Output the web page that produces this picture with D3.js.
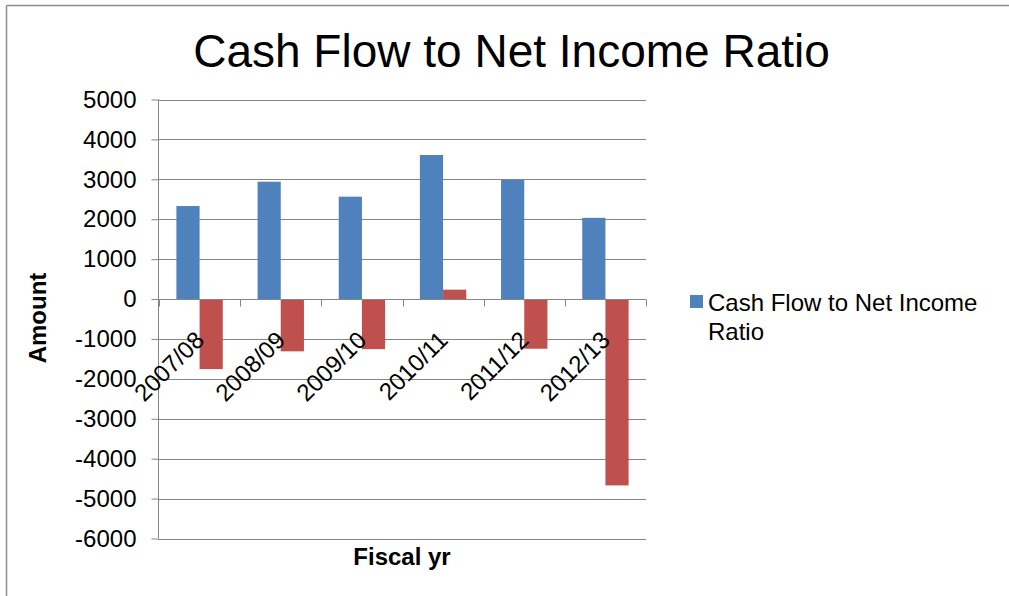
<!DOCTYPE html>
<html>
<head>
<meta charset="utf-8">
<script src="https://cdn.jsdelivr.net/npm/d3@7"></script>
<style>
  html, body { margin: 0; padding: 0; background: #fff; }
  svg { display: block; font-family: "Liberation Sans", Arial, sans-serif; }
</style>
</head>
<body>
<svg id="chart" width="1009" height="596"></svg>
<script>
// ---- data ----
const categories = ["2007/08", "2008/09", "2009/10", "2010/11", "2011/12", "2012/13"];
const seriesNames = ["Cash Flow to Net Income Ratio", "Series 2"];
const cashFlowRatio = [2330, 2940, 2565, 3610, 2990, 2035];
const series2 = [-1755, -1310, -1255, 235, -1245, -4670];
const yTicks = [5000, 4000, 3000, 2000, 1000, 0, -1000, -2000, -3000, -4000, -5000, -6000];
const titleText = "Cash Flow to Net Income Ratio";
const xTitle = "Fiscal yr";
const yTitle = "Amount";

const colors = ["#4F81BD", "#C0504D"];
const seriesValues = [cashFlowRatio, series2];

const svg = d3.select("#chart");
const L = 158, R = 646, T = 99.5, B = 538.5;

// outer chart border (only top and left visible)
svg.append("line").attr("x1", 6.5).attr("x2", 1009).attr("y1", 5.5).attr("y2", 5.5)
  .attr("stroke", "#8c8c8c").attr("stroke-width", 1.5);
svg.append("line").attr("x1", 6.5).attr("x2", 6.5).attr("y1", 5.5).attr("y2", 596)
  .attr("stroke", "#8c8c8c").attr("stroke-width", 1.5);

const y = d3.scaleLinear().domain([-6000, 5000]).range([B, T]);
const x = d3.scaleBand().domain(categories).range([L + 1, R]).paddingInner(0).paddingOuter(0);
const xs = d3.scaleBand().domain(seriesNames).range([0, x.bandwidth()]).paddingInner(0).paddingOuter(0.75);

// gridlines
svg.append("g").selectAll("line").data(yTicks).join("line")
  .attr("x1", L).attr("x2", R)
  .attr("y1", d => Math.round(y(d)) + 0.5).attr("y2", d => Math.round(y(d)) + 0.5)
  .attr("stroke", "#868686").attr("stroke-width", 1);

// bars
const rows = [];
categories.forEach((c, i) => {
  seriesNames.forEach((s, j) => rows.push({ c, s, j, v: seriesValues[j][i] }));
});
svg.append("g").selectAll("rect").data(rows).join("rect")
  .attr("x", d => x(d.c) + xs(d.s))
  .attr("width", xs.bandwidth())
  .attr("y", d => Math.min(y(d.v), y(0)))
  .attr("height", d => Math.abs(y(d.v) - y(0)))
  .attr("fill", d => colors[d.j]);

// y axis
const yAxis = d3.axisLeft(y).tickValues(yTicks).tickSize(7).tickPadding(15).tickFormat(d => String(d));
const gy = svg.append("g").attr("transform", `translate(${L + 0.5},0)`).call(yAxis);
gy.select(".domain").attr("stroke", "#868686").attr("d", `M0,${T}V${B}`);
gy.selectAll(".tick line").attr("stroke", "#868686");
gy.selectAll(".tick text").attr("font-size", 24).attr("fill", "#000")
  .attr("font-family", "'Liberation Sans', Arial, sans-serif");

// category axis at zero
const z = Math.round(y(0)) + 0.5;
const gx = svg.append("g");
gx.append("line").attr("x1", L).attr("x2", R).attr("y1", z).attr("y2", z)
  .attr("stroke", "#868686");
const bounds = categories.map(c => x(c)).concat([x(categories[categories.length - 1]) + x.bandwidth()]);
gx.selectAll("line.tk").data(bounds).join("line").attr("class", "tk")
  .attr("x1", d => Math.round(d) + 0.5).attr("x2", d => Math.round(d) + 0.5)
  .attr("y1", z).attr("y2", z + 7).attr("stroke", "#868686");
gx.selectAll("text").data(categories).join("text")
  .attr("transform", d => `translate(${x(d) + x.bandwidth() / 2 + 6},${z + 42}) rotate(-45)`)
  .attr("text-anchor", "end")
  .attr("font-size", 24).attr("fill", "#000")
  .text(d => d);

// titles
svg.append("text").attr("x", 511.5).attr("y", 66.5).attr("text-anchor", "middle")
  .attr("font-size", 46).attr("fill", "#000").text(titleText);
svg.append("text").attr("x", 402).attr("y", 565).attr("text-anchor", "middle")
  .attr("font-size", 24).attr("font-weight", "bold").attr("fill", "#000").text(xTitle);
svg.append("text").attr("transform", "translate(46,318) rotate(-90)").attr("text-anchor", "middle")
  .attr("font-size", 24).attr("font-weight", "bold").attr("fill", "#000").text(yTitle);

// legend
const lg = svg.append("g");
lg.append("rect").attr("x", 690).attr("y", 295).attr("width", 13).attr("height", 13).attr("fill", colors[0]);
lg.append("text").attr("x", 708).attr("y", 311).attr("font-size", 24).attr("fill", "#000").text("Cash Flow to Net Income");
lg.append("text").attr("x", 708).attr("y", 339.5).attr("font-size", 24).attr("fill", "#000").text("Ratio");
</script>
</body>
</html>
